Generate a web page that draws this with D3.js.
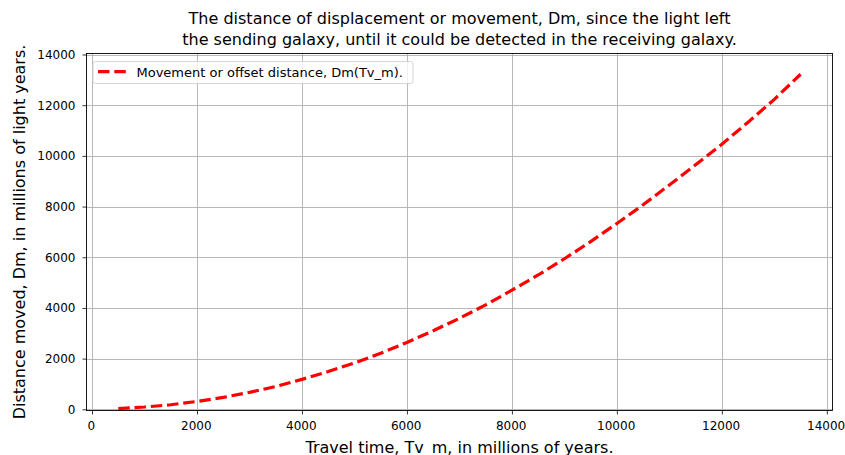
<!DOCTYPE html>
<html><head><meta charset="utf-8">
<script src="https://cdn.jsdelivr.net/npm/d3@7"></script>
<style>body{margin:0;background:#fff;} svg{display:block;font-family:"DejaVu Sans",sans-serif;}</style>
</head><body>
<svg id="c" width="845" height="455"></svg>
<script>
const travelTime = [500,1000,1500,2000,2500,3000,3500,4000,4500,5000,5500,6000,6500,7000,7500,8000,8500,9000,9500,10000,10500,11000,11500,12000,12500,13000,13500];
const distanceMoved = [30,90,180,310,470,670,900,1180,1490,1830,2210,2640,3100,3590,4120,4700,5300,5940,6620,7330,8070,8850,9650,10460,11330,12230,13220];
const xTicks = [0,2000,4000,6000,8000,10000,12000,14000];
const yTicks = [0,2000,4000,6000,8000,10000,12000,14000];
const titleLines = ["The distance of displacement or movement, Dm, since the light left","the sending galaxy, until it could be detected in the receiving galaxy."];
const xLabel = "Travel time, Tv_m, in millions of years.";
const yLabel = "Distance moved, Dm, in millions of light years.";
const legendLabel = "Movement or offset distance, Dm(Tv_m).";

const svg = d3.select("#c");
const L=86.5, R=832.5, T=53.5, B=410.5;
const x = d3.scaleLinear().domain([-105,14108]).range([L,R]);
const y = d3.scaleLinear().domain([-47,14040]).range([B,T]);

// grid
const g = svg.append("g");
g.selectAll(".gx").data(xTicks).join("line")
 .attr("x1",d=>Math.round(x(d))+0.5).attr("x2",d=>Math.round(x(d))+0.5).attr("y1",T).attr("y2",B)
 .attr("stroke","#b0b0b0").attr("stroke-width",0.9);
g.selectAll(".gy").data(yTicks).join("line")
 .attr("y1",d=>Math.round(y(d))+0.5).attr("y2",d=>Math.round(y(d))+0.5).attr("x1",L).attr("x2",R)
 .attr("stroke","#b0b0b0").attr("stroke-width",0.9);

// line
const line = d3.line().x((d,i)=>x(travelTime[i])).y(d=>y(d));
svg.append("path").datum(distanceMoved).attr("d",line).attr("fill","none")
 .attr("stroke","#ff0000").attr("stroke-width",3.2).attr("stroke-dasharray","11.5,4.8");

// axes
const xa = svg.append("g").attr("transform",`translate(0,${B})`)
 .call(d3.axisBottom(x).tickValues(xTicks).tickFormat(d3.format("d")).tickSizeOuter(0).tickSize(4).tickPadding(6.5));
xa.selectAll("text").attr("dx","-1.2");
const ya = svg.append("g").attr("transform",`translate(${L},0)`)
 .call(d3.axisLeft(y).tickValues(yTicks).tickFormat(d3.format("d")).tickSizeOuter(0).tickSize(4).tickPadding(7));
[xa,ya].forEach(a=>{a.select(".domain").remove();
 a.selectAll("text").attr("font-size","12px").attr("fill","#000").attr("font-family","DejaVu Sans");
 a.selectAll("line").attr("stroke","#000").attr("stroke-width",0.8);});

// spines
svg.append("rect").attr("x",L).attr("y",T).attr("width",R-L).attr("height",B-T)
 .attr("fill","none").attr("stroke","#000").attr("stroke-width",0.9);

// title
svg.append("g").selectAll("text").data(titleLines).join("text")
 .attr("x",(L+R)/2).attr("y",(d,i)=>24+i*20.5).attr("text-anchor","middle")
 .attr("font-size","16px").attr("fill","#000").text(d=>d);

svg.append("text").attr("x",(L+R)/2).attr("y",452.5).attr("text-anchor","middle")
 .attr("font-size","16px").attr("fill","#000").text(xLabel);
svg.append("text").attr("transform",`translate(25,${(T+B)/2}) rotate(-90)`).attr("text-anchor","middle")
 .attr("font-size","16px").attr("fill","#000").text(yLabel);

// legend
const lg = svg.append("g");
lg.append("rect").attr("x",93).attr("y",61.5).attr("width",320).attr("height",22).attr("rx",2.5)
 .attr("fill","#fff").attr("fill-opacity",0.8).attr("stroke","#d0d0d0").attr("stroke-width",0.9);
lg.append("line").attr("x1",98).attr("x2",126).attr("y1",71.7).attr("y2",71.7)
 .attr("stroke","#ff0000").attr("stroke-width",3.2).attr("stroke-dasharray","11.5,4.8");
lg.append("text").attr("x",136.5).attr("y",76.5).attr("font-size","13px").attr("fill","#000").text(legendLabel);
</script>
</body></html>
